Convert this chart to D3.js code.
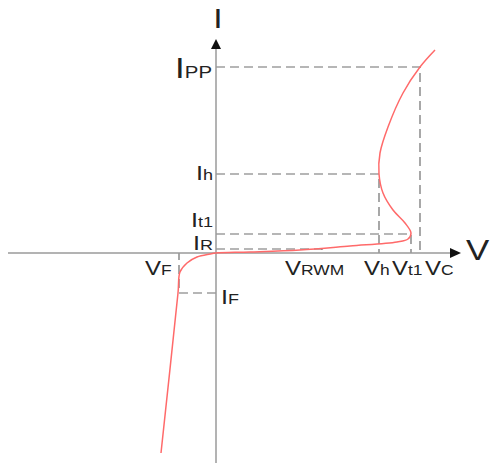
<!DOCTYPE html>
<html>
<head>
<meta charset="utf-8">
<script src="https://cdn.jsdelivr.net/npm/d3@7"></script>
<style>
  body { margin: 0; background: #fff; }
  text { font-family: "Liberation Sans", Arial, sans-serif; fill: #222; }
</style>
</head>
<body>
<svg id="chart"></svg>
<script>
// voltage markers (V)
const vNames = ['F', 'RWM', 'h', 't1', 'C'];
const vValues = [-1.85, 5.3, 8.15, 9.75, 10.2];

// current markers (A)
const iNames = ['PP', 'h', 't1', 'R', 'F'];
const iValues = [18.6, 7.9, 1.9, 0.4, -4.0];

// I-V curve
const curveV = [10.95, 10.2, 9.35, 8.6, 8.2, 8.15, 8.35, 8.85, 9.45, 9.75, 9.6, 9.05, 6.7, 4.2, 1.7, 0, -0.3, -0.95, -1.45, -1.8, -1.9, -2.75];
const curveI = [20.3, 18.6, 16.0, 12.6, 10.0, 7.9, 6.0, 4.3, 3.0, 2.0, 1.4, 1.1, 0.7, 0.3, 0.1, 0, -0.1, -0.4, -1.0, -1.9, -4.0, -20];

const width = 491, height = 463;
const stretch = 1.2; // labels in the source are drawn a bit wide

const svg = d3.select('#chart')
    .attr('width', width)
    .attr('height', height);

const x = d3.scaleLinear().domain([-10.4, 12.1]).range([8, 458]);
const y = d3.scaleLinear().domain([-21, 21.3]).range([463, 40]);

const V = name => vValues[vNames.indexOf(name)];
const I = name => iValues[iNames.indexOf(name)];

// dashed guide lines
const guides = [
    [[0, I('PP')], [V('C'), I('PP')], [V('C'), 0]],
    [[0, I('h')], [V('h'), I('h')], [V('h'), 0]],
    [[0, I('t1')], [V('t1'), I('t1')], [V('t1'), 0]],
    [[0, I('R')], [V('RWM'), I('R')], [V('RWM'), 0]],
    [[0, I('F')], [V('F'), I('F')], [V('F'), 0]]
];
const guideLine = d3.line().x(d => x(d[0])).y(d => y(d[1]));
svg.append('g')
    .selectAll('path')
    .data(guides)
    .enter()
    .append('path')
    .attr('d', guideLine)
    .attr('fill', 'none')
    .attr('stroke', '#6e6e6e')
    .attr('stroke-width', 1.2)
    .attr('stroke-dasharray', '9,5');

// axes
svg.append('line')
    .attr('x1', x(0)).attr('x2', x(0))
    .attr('y1', height).attr('y2', 46)
    .attr('stroke', '#9a9a9a').attr('stroke-width', 1.5);
svg.append('line')
    .attr('x1', 8).attr('x2', 452)
    .attr('y1', y(0)).attr('y2', y(0))
    .attr('stroke', '#9a9a9a').attr('stroke-width', 1.5);
svg.append('path')
    .attr('d', `M${x(0)},39 L${x(0) - 5},49 L${x(0) + 5},49 Z`)
    .attr('fill', '#111');
svg.append('path')
    .attr('d', `M461,${y(0)} L450,${y(0) - 5} L450,${y(0) + 5} Z`)
    .attr('fill', '#111');

// curve
const pts = curveV.map((v, k) => [v, curveI[k]]);
svg.append('path')
    .datum(pts)
    .attr('d', d3.line().x(d => x(d[0])).y(d => y(d[1])).curve(d3.curveCatmullRom.alpha(0.5)))
    .attr('fill', 'none')
    .attr('stroke', '#ff6a6a')
    .attr('stroke-width', 1.5);

function label(px, py, main, sub, size, subSize, anchor) {
    const t = svg.append('text')
        .attr('transform', `translate(${px},${py}) scale(${stretch},1)`)
        .attr('text-anchor', anchor || 'start')
        .style('font-size', size + 'px');
    t.append('tspan').text(main);
    if (sub) t.append('tspan').style('font-size', subSize + 'px').text(sub);
}

// axis titles
label(x(0) + 2, 28, 'I', '', 28, 0, 'middle');
label(466, 260, 'V', '', 29, 0);

// current labels
const iLabelDy = { PP: 11, h: 6, t1: -7, R: 1 };
iNames.forEach(n => {
    if (n === 'F') {
        label(x(0) + 5, y(I(n)) + 11, 'I', n, 21, 15);
    } else if (n === 'PP') {
        label(x(0) - 4, y(I(n)) + iLabelDy[n], 'I', n, 29, 17, 'end');
    } else {
        label(x(0) - 3, y(I(n)) + iLabelDy[n], 'I', n, 21, 15, 'end');
    }
});

// voltage labels
const vLabelDx = { F: -34, RWM: -37, h: -15, t1: -19, C: 5 };
vNames.forEach(n => {
    label(x(V(n)) + vLabelDx[n], y(0) + 22, 'V', n, 20, 14.5);
});
</script>
</body>
</html>
